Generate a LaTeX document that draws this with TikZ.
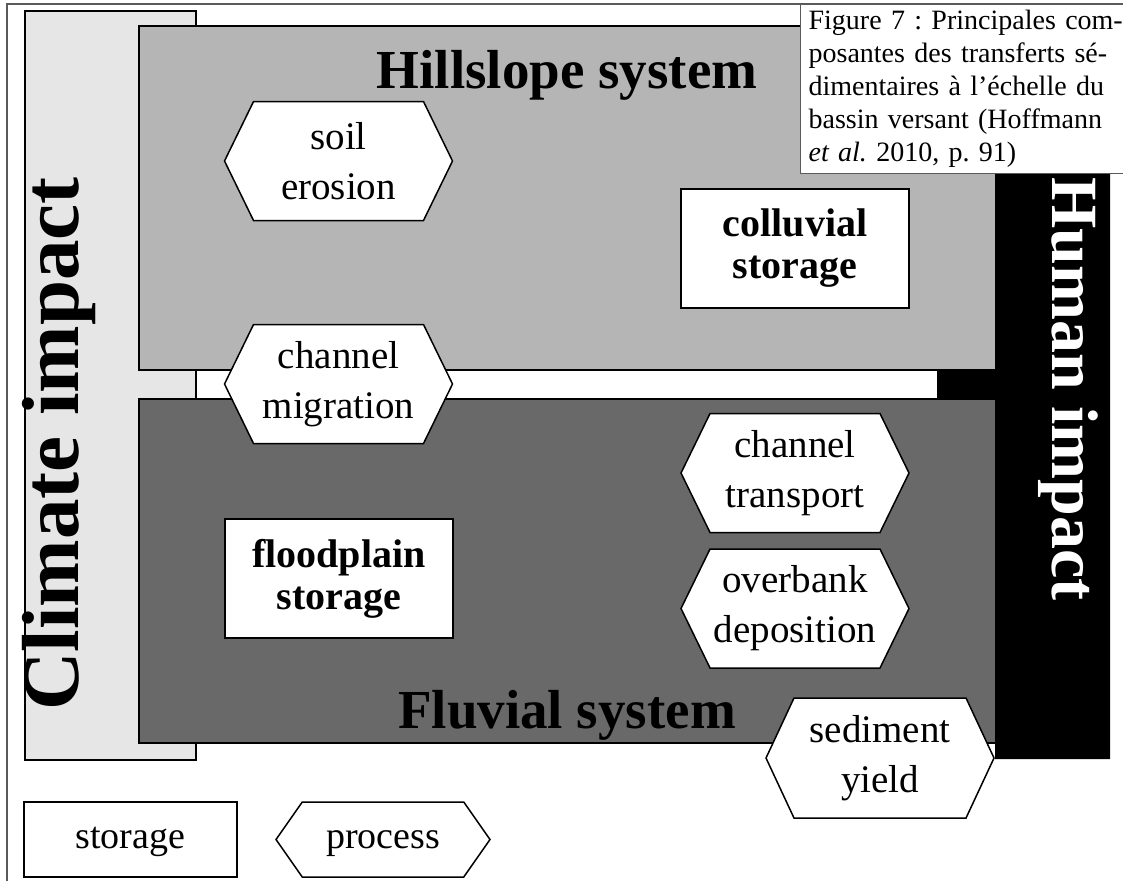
\documentclass[tikz,border=0pt]{standalone}
\usepackage{fontspec}
\setmainfont{Liberation Serif}
\usetikzlibrary{shapes.symbols,positioning}
\definecolor{climate-gr}{RGB}{230,230,230}
\definecolor{hill-gr}{RGB}{180,181,180}
\definecolor{fluv-gr}{RGB}{104,105,104}
\definecolor{frame-gr}{RGB}{90,90,90}
\tikzstyle{zone}=[draw=black,line width=1.5pt]
\tikzstyle{storage}=[draw,line width=1.5pt,fill=white,rectangle,minimum width=228pt,minimum height=119pt,inner sep=0pt,align=center,font=\fontsize{40}{42}\selectfont\bfseries]
\tikzstyle{process}=[draw,line width=1.5pt,fill=white,signal,signal to=east and west,signal pointer angle=128,minimum width=228pt,minimum height=119pt,inner sep=0pt,align=center,font=\fontsize{39}{50}\selectfont]
\tikzstyle{system}=[anchor=base,font=\fontsize{55}{60}\selectfont\bfseries]
\tikzstyle{impact}=[anchor=base,font=\bfseries]
\tikzstyle{legend}=[draw,line width=1.5pt,fill=white,minimum height=75pt,inner sep=0pt,text height=26pt,text depth=8pt,font=\fontsize{38}{46}\selectfont]

\begin{document}
\begin{tikzpicture}[x=1pt,y=-1pt]
  \useasboundingbox (0,0) rectangle (1123,881);

  % Climate impact
  \draw[zone,fill=climate-gr] (25,11) rectangle (196,760);
  \node[impact,rotate=90,font=\fontsize{81}{90}\selectfont\bfseries] (climate) at (78,444) {Climate impact};

  % Hillslope and fluvial systems
  \draw[zone,fill=hill-gr] (139,26) rectangle (1000,370);
  \draw[zone,fill=fluv-gr] (139,399) rectangle (1000,743);

  % Human impact
  \fill[black] (995,11) -- (1110,11) -- (1110,759) -- (995,759) -- (995,399)
    -- (937,399) -- (937,370) -- (995,370) -- cycle;
  \node[impact,rotate=-90,text=white,font=\fontsize{66}{72}\selectfont\bfseries] (human) at (1052,389) {Human impact};

  \node[system] (hill) at (567,88) {Hillslope system};
  \node[system] (fluv) at (567,728) {Fluvial system};

  % Stores
  \node[storage] (coll) at (795,248.5) {colluvial\\storage};
  \node[storage] (flood) at (339,578.5) {floodplain\\storage};

  % Processes
  \node[process] (soil) at (338.5,161) {soil\\erosion};
  \node[process] (migr) at (338.5,384) {channel\\migration};
  \node[process] (trans) at (795,473) {channel\\transport};
  \node[process] (over) at (795,608.5) {overbank\\deposition};
  \node[process,minimum height=120pt,signal pointer angle=130] (yield) at (880,758) {sediment\\yield};

  % Legend
  \node[legend,minimum width=213pt] (lstore) at (130.5,839.5) {storage};
  \node[legend,signal,signal to=east and west,signal pointer angle=110,minimum width=214pt] (lproc) at (383,839.5) {process};

  % Frame and caption
  \draw[frame-gr,line width=1.2pt] (7,881) -- (7,4) -- (1123,4);
  \node[draw=frame-gr,line width=1.2pt,fill=white,anchor=north west,inner xsep=8pt,inner ysep=0pt,
    text width=310pt,minimum height=169pt,align=left,font=\fontsize{28}{33}\selectfont\frenchspacing] (caption) at (800,4)
    {\makebox[310pt][s]{Figure 7 : Principales com-}\\
     \makebox[310pt][s]{posantes des transferts sé-}\\
     \makebox[310pt][s]{dimentaires à l'échelle du}\\
     \makebox[310pt][s]{bassin versant (Hoffmann}\\
     \textit{et al.} 2010, p. 91)};
\end{tikzpicture}
\end{document}
